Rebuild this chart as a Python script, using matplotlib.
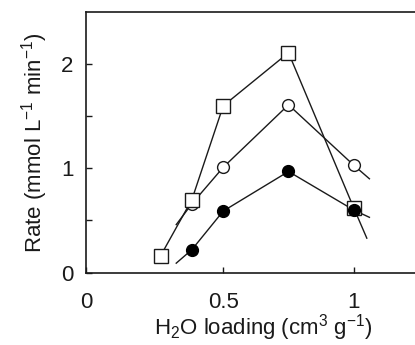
import matplotlib
matplotlib.use("Agg")
import matplotlib.pyplot as plt

plt.rcParams['font.family'] = ['Liberation Sans', 'DejaVu Sans']
plt.rcParams['mathtext.fontset'] = 'custom'
plt.rcParams['mathtext.rm'] = 'Liberation Sans'
plt.rcParams['mathtext.it'] = 'Liberation Sans:italic'
plt.rcParams['mathtext.bf'] = 'Liberation Sans:bold'

# open squares
sq_x = [0.26, 0.38, 0.50, 0.75, 1.00]
sq_y = [0.16, 0.70, 1.60, 2.11, 0.62]
sq_line_x = [0.26, 0.38, 0.50, 0.75, 1.00, 1.05]
sq_line_y = [0.16, 0.70, 1.60, 2.11, 0.62, 0.33]

# open circles
oc_x = [0.38, 0.50, 0.75, 1.00]
oc_y = [0.66, 1.01, 1.61, 1.03]
oc_line_x = [0.32, 0.38, 0.50, 0.75, 1.00, 1.06]
oc_line_y = [0.46, 0.66, 1.01, 1.61, 1.03, 0.90]

# filled circles
fc_x = [0.38, 0.50, 0.75, 1.00]
fc_y = [0.22, 0.59, 0.97, 0.60]
fc_line_x = [0.32, 0.38, 0.50, 0.75, 1.00, 1.06]
fc_line_y = [0.09, 0.22, 0.59, 0.97, 0.60, 0.53]

x0 = -0.026
xmax = 1.33

# axes runs past the right edge of the figure (cropped like the original)
fig = plt.figure(figsize=(4.15, 3.45), dpi=100)
ax = fig.add_axes([0.207, 0.210, 0.853, 0.755])

lw = 1.0
ax.plot(sq_line_x, sq_line_y, color='#1a1a1a', lw=lw, zorder=2)
ax.plot(oc_line_x, oc_line_y, color='#1a1a1a', lw=lw, zorder=2)
ax.plot(fc_line_x, fc_line_y, color='#1a1a1a', lw=lw, zorder=2)

# open circles under squares, filled circles on top
ax.plot(oc_x, oc_y, ls='none', marker='o', ms=8.5, mfc='white', mec='#1a1a1a', mew=1.0, zorder=3)
ax.plot(sq_x, sq_y, ls='none', marker='s', ms=10, mfc='white', mec='#1a1a1a', mew=1.0, zorder=4)
ax.plot(fc_x, fc_y, ls='none', marker='o', ms=8.5, mfc='black', mec='black', mew=1.0, zorder=5)

ax.set_xlim(x0, xmax)
ax.set_ylim(0, 2.5)
ax.set_xticks([x0, 0.5, 1.0])
ax.set_xticklabels(['0', '0.5', '1'])
ax.set_yticks([0, 1, 2])
ax.set_yticks([0.5, 1.5], minor=True)

ax.tick_params(axis='both', which='both', direction='in', length=4.5, width=1.0,
               labelsize=16, colors='#1a1a1a')
ax.tick_params(axis='x', pad=14)
ax.tick_params(axis='y', pad=9)

ax.spines['right'].set_visible(False)
for s in ['left', 'top', 'bottom']:
    ax.spines[s].set_linewidth(1.2)
    ax.spines[s].set_color('#1a1a1a')

ax.set_xlabel(r'H$_2$O loading (cm$^3$ g$^{-1}$)', fontsize=16, color='#1a1a1a', labelpad=-1)
ax.set_ylabel(r'Rate (mmol L$^{-1}$ min$^{-1}$)', fontsize=16, color='#1a1a1a', labelpad=8)

fig.savefig('out.png', dpi=100)
